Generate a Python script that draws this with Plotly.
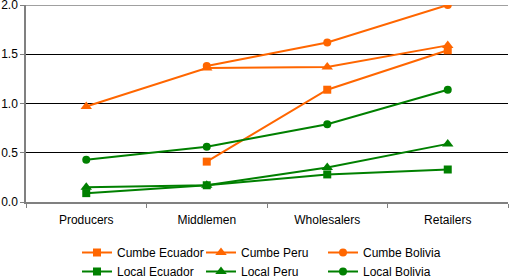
import plotly.graph_objects as go

categories = ["Producers", "Middlemen", "Wholesalers", "Retailers"]
cumbe_ecuador = [None, 0.41, 1.14, 1.54]
cumbe_peru = [0.97, 1.36, 1.37, 1.59]
cumbe_bolivia = [None, 1.38, 1.62, 2.0]
local_ecuador = [0.09, 0.17, 0.28, 0.33]
local_peru = [0.15, 0.17, 0.35, 0.59]
local_bolivia = [0.43, 0.56, 0.79, 1.14]
y_ticks = [0.0, 0.5, 1.0, 1.5, 2.0]

ORANGE = "#FF6600"
GREEN = "#008000"

series = [
    ("Cumbe Ecuador", cumbe_ecuador, ORANGE, "square", "legend"),
    ("Local Ecuador", local_ecuador, GREEN, "square", "legend"),
    ("Cumbe Peru", cumbe_peru, ORANGE, "triangle-up", "legend2"),
    ("Local Peru", local_peru, GREEN, "triangle-up", "legend2"),
    ("Cumbe Bolivia", cumbe_bolivia, ORANGE, "circle", "legend3"),
    ("Local Bolivia", local_bolivia, GREEN, "circle", "legend3"),
]
sizes = {"square": 8, "triangle-up": 10, "circle": 8}

fig = go.Figure()
for name, vals, col, sym, leg in series:
    fig.add_trace(go.Scatter(
        x=categories, y=vals, name=name, mode="lines+markers",
        line=dict(color=col, width=2),
        marker=dict(color=col, symbol=sym, size=sizes[sym]),
        legend=leg,
    ))

plot_h = 277 - 5 - 75
plot_w = 510 - 26 - 2
leg_y = -36 / plot_h
common = dict(orientation="v", yanchor="top", y=leg_y, xanchor="left",
              tracegroupgap=0, font=dict(size=12), bgcolor="rgba(0,0,0,0)")

fig.update_layout(
    width=510, height=277,
    margin=dict(l=26, r=2, t=5, b=75, autoexpand=False),
    paper_bgcolor="white", plot_bgcolor="white",
    font=dict(family="Liberation Sans, Arial, sans-serif", size=12, color="black"),
    showlegend=True,
    legend=dict(x=(77 - 26) / plot_w, **common),
    legend2=dict(x=(201 - 26) / plot_w, **common),
    legend3=dict(x=(323 - 26) / plot_w, **common),
)
fig.update_xaxes(type="category", tickson="boundaries", ticks="outside", ticklen=4,
                 tickcolor="#808080", showline=True, linecolor="#808080", linewidth=1.5,
                 showgrid=False, range=[-0.5, 3.5], ticklabelstandoff=6)
fig.update_yaxes(range=[0, 2.0], tickvals=y_ticks, tickformat=".1f", ticks="outside",
                 ticklen=4, tickcolor="#808080", showline=True, linecolor="#808080",
                 linewidth=1.5, showgrid=True, gridcolor="#000000", gridwidth=1,
                 zeroline=False, ticklabeloverflow="allow")
fig.add_shape(type="line", xref="paper", yref="y", x0=0, x1=1,
              y0=y_ticks[-1], y1=y_ticks[-1], line=dict(color="#808080", width=1.5),
              layer="below")

fig.write_html("out.html", post_script="document.body.style.margin='0';",
               config={"displayModeBar": False})
